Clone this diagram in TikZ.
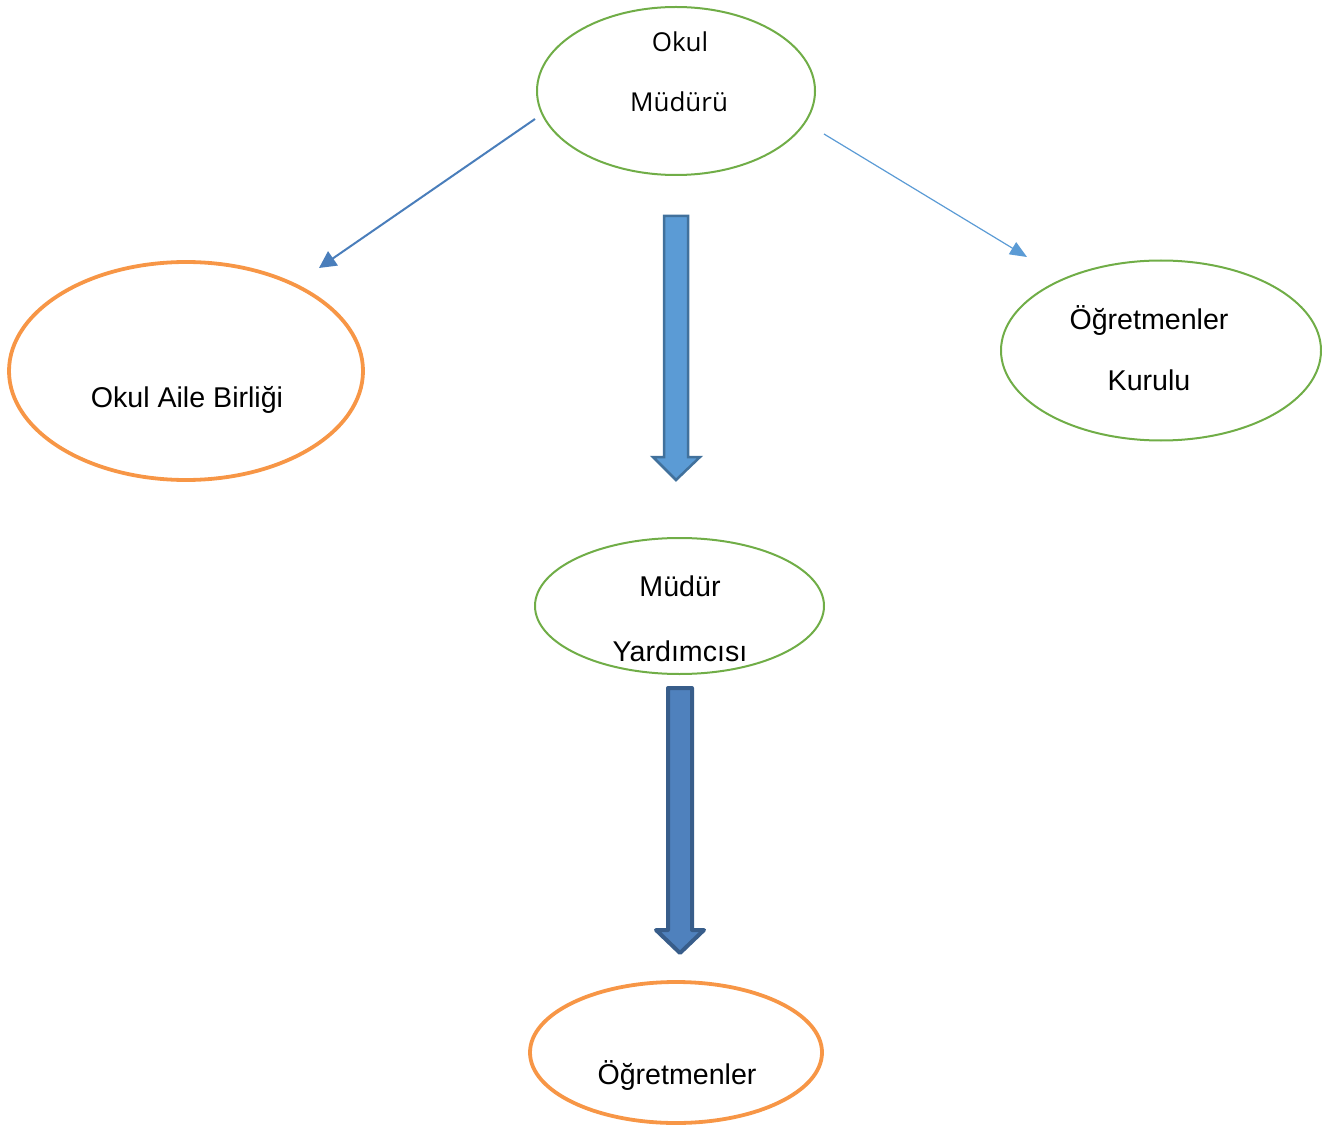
\documentclass[tikz,border=0pt]{standalone}
\usepackage{fontspec}
\setmainfont{Liberation Sans}
\newfontfamily\topfont{Open Sans}
\usetikzlibrary{arrows.meta,shapes.geometric}
\definecolor{eggreen}{HTML}{70AD47}
\definecolor{egorange}{HTML}{F79646}
\definecolor{egblueA}{HTML}{4A7EBB}
\definecolor{egblueB}{HTML}{5B9BD5}
\definecolor{egblockA}{HTML}{5B9BD5}
\definecolor{egblockAline}{HTML}{41719C}
\definecolor{egblockB}{HTML}{4F81BD}
\definecolor{egblockBline}{HTML}{385D8A}
\tikzset{
  greenell/.style={draw=eggreen, line width=2pt, ellipse, inner sep=0pt},
  orangeell/.style={draw=egorange, line width=3.8pt, ellipse, inner sep=0pt},
  lbl/.style={anchor=base, inner sep=0pt, font=\fontsize{28.6}{30}\selectfont},
  toplbl/.style={anchor=base, inner sep=0pt, font=\topfont\fontsize{26}{28}\selectfont},
  linkA/.style={draw=egblueA, line width=2pt, -{Triangle[length=17pt,width=17pt]}},
  linkB/.style={draw=egblueB, line width=1.2pt, -{Triangle[length=17pt,width=14pt]}},
}
\begin{document}
\begin{tikzpicture}[x=1pt,y=-1pt]
\useasboundingbox (0,0) rectangle (1322,1131);
% ellipses
\node[greenell, minimum width=278pt, minimum height=168pt] (mudur) at (676,91) {};
\node[orangeell, minimum width=354pt, minimum height=218pt] (aile) at (186,371) {};
\node[greenell, minimum width=320pt, minimum height=180pt] (kurul) at (1161,350.5) {};
\node[greenell, minimum width=289pt, minimum height=136pt] (yard) at (679.5,606) {};
\node[orangeell, minimum width=292pt, minimum height=141pt] (ogret) at (676,1052.5) {};
% labels
\node[toplbl] (t1) at (680,52) {Okul};
\node[toplbl] (t2) at (679,112) {Müdürü};
\node[lbl] (t3) at (187,407) {Okul Aile Birliği};
\node[lbl] (t4) at (1149,330) {Öğretmenler};
\node[lbl] (t5) at (1149,390) {Kurulu};
\node[lbl] (t6) at (680,596) {Müdür};
\node[lbl] (t7) at (680,661) {Yardımcısı};
\node[lbl] (t8) at (677,1084) {Öğretmenler};
% line arrows
\coordinate (a1s) at (535,119);
\coordinate (a1e) at (319,268);
\coordinate (a2s) at (824,134);
\coordinate (a2e) at (1027,257);
\draw[linkA] (a1s) -- (a1e);
\draw[linkB] (a2s) -- (a2e);
% block arrows
\draw[fill=egblockA, draw=egblockAline, line width=2.5pt, line join=miter]
  (664,216) -- (688,216) -- (688,457) -- (700,457) -- (676,480) -- (653,457) -- (664,457) -- cycle;
\draw[fill=egblockB, draw=egblockBline, line width=4pt, line join=round]
  (668,688) -- (692,688) -- (692,930) -- (704,930) -- (680,953) -- (656,930) -- (668,930) -- cycle;
\end{tikzpicture}
\end{document}
